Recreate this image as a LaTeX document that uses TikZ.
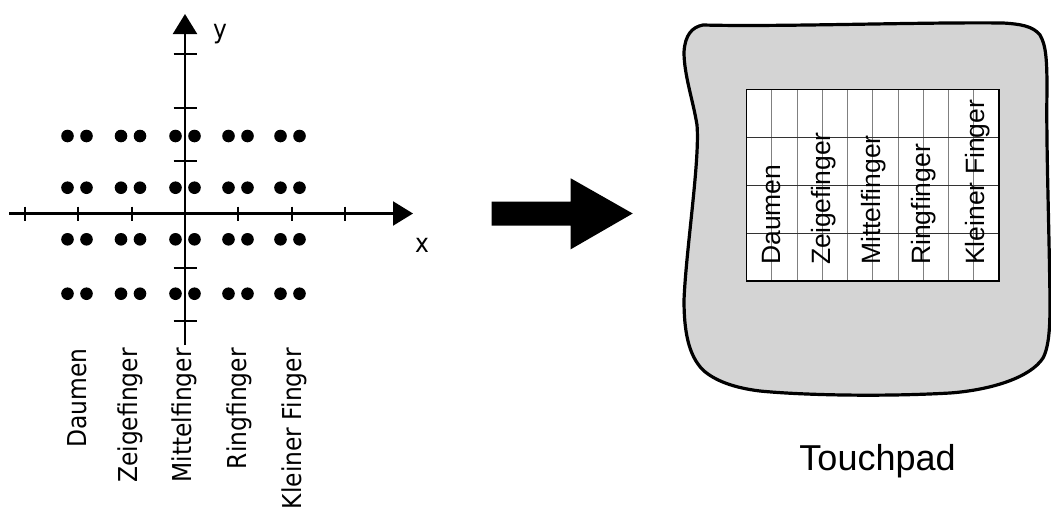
\documentclass[tikz,border=0pt]{standalone}
\usepackage{fontspec}
\setmainfont{Liberation Sans}
\newfontfamily\axisfont[FakeStretch=0.9]{DejaVu Sans}
\usetikzlibrary{arrows.meta,calc}
\definecolor{padgray}{HTML}{D4D4D4}
\definecolor{gridgray}{HTML}{808080}
\begin{document}
\begin{tikzpicture}[x=1pt,y=-1pt,
  axisline/.style={line width=2.2pt, -{Triangle[length=20pt,width=24pt]}},
  tickmark/.style={line width=2pt},
  fingerdot/.style={fill=black},
  axislabel/.style={font=\axisfont\fontsize{26}{30}\selectfont, inner sep=0pt},
  fingerlabel/.style={font=\axisfont\fontsize{26}{30}\selectfont, rotate=90, anchor=base east, inner sep=0pt},
  padlabel/.style={font=\fontsize{26.5}{30}\selectfont, rotate=90, anchor=base west, inner sep=0pt},
  padoutline/.style={fill=padgray, draw=black, line width=3.2pt},
  gridcol/.style={draw=gridgray, line width=0.9pt},
  gridrow/.style={draw=black!80, line width=0.9pt},
]
\useasboundingbox (0,0) rectangle (1051,514);

% ---------- coordinate system with finger positions ----------
\coordinate (O) at (185,213.5);
\coordinate (xstart) at (9,213.5);
\coordinate (xend) at (413,213.5);
\coordinate (ystart) at (185,345);
\coordinate (yend) at (185,14);
\draw[axisline] (xstart) -- (xend);
\draw[axisline] (ystart) -- (yend);

% ticks on the x axis
\foreach \k in {-3,-2,-1,1,2,3}
  \draw[tickmark] ($(O)+(\k*53.3,-7)$) -- ($(O)+(\k*53.3,7)$);
% ticks on the y axis
\foreach \yy in {54.3,107.7,161,267.7,321}
  \draw[tickmark] (173.5,\yy) -- (196.5,\yy);

\node[axislabel, anchor=base] (ylab) at (220,38) {y};
\node[axislabel, anchor=base] (xlab) at (422,252.7) {x};

% two dots per finger and row
\foreach \cx in {77,130.5,185,238,290}
  \foreach \ry in {136,187.7,239.3,293.7} {
    \fill[fingerdot] (\cx-9.5,\ry) circle (6.3);
    \fill[fingerdot] (\cx+9.5,\ry) circle (6.3);
  }

\node[fingerlabel] (l1) at (86,348) {Daumen};
\node[fingerlabel] (l2) at (137,348) {Zeigefinger};
\node[fingerlabel] (l3) at (191.5,348) {Mittelfinger};
\node[fingerlabel] (l4) at (246.5,348) {Ringfinger};
\node[fingerlabel] (l5) at (301.5,348) {Kleiner Finger};

% ---------- block arrow ----------
\fill[black] (491.7,201.7) -- (570.7,201.7) -- (570.7,178.3) -- (632.7,213.5)
  -- (570.7,249.3) -- (570.7,225.7) -- (491.7,225.7) -- cycle;

% ---------- touchpad ----------
\draw[padoutline] (703,25)
  .. controls (692,27) and (685,35) .. (684,52)
  .. controls (684,75) and (693,100) .. (697,125)
  .. controls (700,160) and (686,250) .. (684,300)
  .. controls (684,330) and (688,355) .. (703,370)
  .. controls (715,381) and (735,388) .. (760,391)
  .. controls (800,395) and (880,397) .. (950,393)
  .. controls (990,390) and (1030,378) .. (1043,358)
  .. controls (1050,345) and (1050,320) .. (1050,300)
  .. controls (1049,220) and (1046,140) .. (1047,90)
  .. controls (1047,60) and (1046,45) .. (1040,35)
  .. controls (1033,26) and (1020,24) .. (1003,23)
  .. controls (920,22) and (780,27) .. (703,25) -- cycle;

\fill[white] (746.5,89.3) rectangle (999,281);
\foreach \i in {1,...,9}
  \draw[gridcol] (746.5+\i*25.25,89.3) -- (746.5+\i*25.25,281);
\foreach \j in {1,2,3}
  \draw[gridrow] (746.5,89.3+\j*47.9) -- (999,89.3+\j*47.9);
\draw[black, line width=1.3pt] (746.5,89.3) rectangle (999,281);

\node[padlabel] (p1) at (780,265) {Daumen};
\node[padlabel] (p2) at (830,265) {Zeigefinger};
\node[padlabel] (p3) at (880,265) {Mittelfinger};
\node[padlabel] (p4) at (930,265) {Ringfinger};
\node[padlabel] (p5) at (984,265) {Kleiner Finger};

\node[font=\fontsize{36}{40}\selectfont, anchor=base, inner sep=0pt] (pad) at (877.5,470) {Touchpad};
\end{tikzpicture}
\end{document}
